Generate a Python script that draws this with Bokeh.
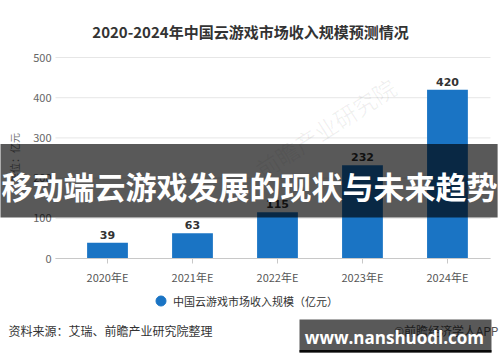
from bokeh.plotting import figure
from bokeh.models import (Range1d, FixedTicker, Label, BoxAnnotation, Legend, LegendItem,
                          ColumnDataSource, LinearAxis)
from bokeh.core.properties import value
from bokeh.embed import file_html
from bokeh.resources import INLINE

# ---- data ----
categories = ["2020年E", "2021年E", "2022年E", "2023年E", "2024年E"]
revenue = [39, 63, 115, 232, 420]
y_ticks = [0, 100, 200, 300, 400, 500]
title_text = "2020-2024年中国云游戏市场收入规模预测情况"
series_name = "中国云游戏市场收入规模（亿元）"
y_label = "单位：亿元"
source_text = "资料来源：艾瑞、前瞻产业研究院整理"
credit_text = "©前瞻经济学人APP"
banner_text = "移动端云游戏发展的现状与未来趋势"
site_text = "www.nanshuodl.com"
watermark_text = "前瞻产业研究院"

CJK = "Noto Sans CJK SC"
BLUE = "#1a74c4"

idx = list(range(len(categories)))
src = ColumnDataSource(dict(x=idx, top=revenue, label=[str(v) for v in revenue]))

# plotting area edges (in data units) inside the full-canvas frame
X_LEFT, X_RIGHT = -0.612, 4.506

p = figure(width=500, height=362,
           x_range=Range1d(-1.259, 4.624), y_range=Range1d(-258.7, 641.8),
           output_backend="svg", toolbar_location=None,
           min_border=0, x_axis_type=None, y_axis_type=None)
p.outline_line_color = None
p.background_fill_color = "white"
p.border_fill_color = "white"
p.xgrid.grid_line_color = None
p.ygrid.grid_line_color = None

# faint watermark
p.add_layout(Label(x=2.565, y=325, text=watermark_text, text_align="center", text_baseline="middle",
                   angle=0.57, text_font=CJK, text_font_size="23px", text_color="#000000",
                   text_alpha=0.06))

# gridlines
gsrc = ColumnDataSource(dict(y=y_ticks, x0=[X_LEFT] * len(y_ticks), x1=[X_RIGHT] * len(y_ticks)))
p.segment(x0="x0", x1="x1", y0="y", y1="y", source=gsrc, line_color="#e6e6e6", line_width=1)

# axes drawn at fixed locations inside the frame
xaxis = LinearAxis(fixed_location=0, bounds=(X_LEFT, X_RIGHT))
xaxis.ticker = FixedTicker(ticks=idx)
xaxis.major_label_overrides = {i: c for i, c in zip(idx, categories)}
xaxis.axis_line_color = "#c8c8c8"
xaxis.major_tick_line_color = "#c8c8c8"
xaxis.major_tick_out = 5
xaxis.major_tick_in = 0
xaxis.minor_tick_line_color = None
xaxis.major_label_text_font = CJK
xaxis.major_label_text_font_size = "11px"
xaxis.major_label_text_color = "#555555"
xaxis.major_label_standoff = 5
p.add_layout(xaxis, "below")

yaxis = LinearAxis(fixed_location=X_LEFT, bounds=(0, 500))
yaxis.ticker = FixedTicker(ticks=y_ticks)
yaxis.axis_line_color = None
yaxis.major_tick_line_color = None
yaxis.minor_tick_line_color = None
yaxis.major_tick_out = 0
yaxis.major_tick_in = 0
yaxis.major_label_text_font = CJK
yaxis.major_label_text_font_size = "11px"
yaxis.major_label_text_color = "#666666"
yaxis.major_label_standoff = 4
yaxis.axis_label = y_label
yaxis.axis_label_text_font = CJK
yaxis.axis_label_text_font_size = "10px"
yaxis.axis_label_text_font_style = "normal"
yaxis.axis_label_text_color = "#777777"
yaxis.axis_label_standoff = 8
p.add_layout(yaxis, "left")

# bars
p.vbar(x="x", top="top", width=0.48, source=src, fill_color=BLUE, line_color=None)
p.text(x="x", y="top", text="label", source=src, text_align="center", text_baseline="bottom",
       y_offset=-4, text_font=value("DejaVu Sans"), text_font_style="bold",
       text_font_size="11px", text_color="#333333")

# legend (its marker sits outside the visible range; only the legend swatch shows)
dot = p.scatter(x=[100], y=[10000], marker="circle", size=10, fill_color=BLUE, line_color=BLUE)
legend = Legend(items=[LegendItem(label=series_name, renderers=[dot])], location=(148, 49),
                glyph_width=25, glyph_height=25, label_height=25, label_standoff=0,
                padding=0, margin=0, border_line_color=None, background_fill_alpha=0,
                label_text_font=CJK, label_text_font_size="11px", label_text_color="#333333")
p.add_layout(legend, "center")

# title
p.add_layout(Label(x=1.682, y=564.7, text=title_text, text_align="center", text_baseline="middle",
                   text_font=CJK, text_font_style="bold", text_font_size="15px",
                   text_color="#333333"))

# footer texts
p.add_layout(Label(x=-1.165, y=-179, text=source_text, text_align="left", text_baseline="middle",
                   text_font=CJK, text_font_size="12px", text_color="#333333"))
p.add_layout(Label(x=4.6, y=-179, text=credit_text, text_align="right", text_baseline="middle",
                   text_font=CJK, text_font_size="12px", text_color="#555555"))

# overlay banner
p.add_layout(BoxAnnotation(left=-2, right=4.59, top=285, bottom=102.0, fill_color="black",
                           fill_alpha=0.65, line_color=None))
p.add_layout(Label(x=1.671, y=181.6, text=banner_text, text_align="center", text_baseline="middle",
                   text_font=CJK, text_font_style="bold", text_font_size="31px",
                   text_color="white"))

# site watermark box
p.add_layout(BoxAnnotation(left=2.259, right=4.518, top=-151.7, bottom=-233.8, fill_color="black",
                           fill_alpha=0.65, line_color=None))
p.add_layout(BoxAnnotation(left=2.259, right=4.518, top=-227.6, bottom=-233.8, fill_color="black",
                           fill_alpha=0.9, line_color=None))
p.add_layout(Label(x=3.376, y=-196.5, text=site_text, text_align="center", text_baseline="middle",
                   text_font="Open Sans", text_font_style="bold", text_font_size="17px",
                   text_color="white"))

open("out.html", "w").write(file_html(p, INLINE))
